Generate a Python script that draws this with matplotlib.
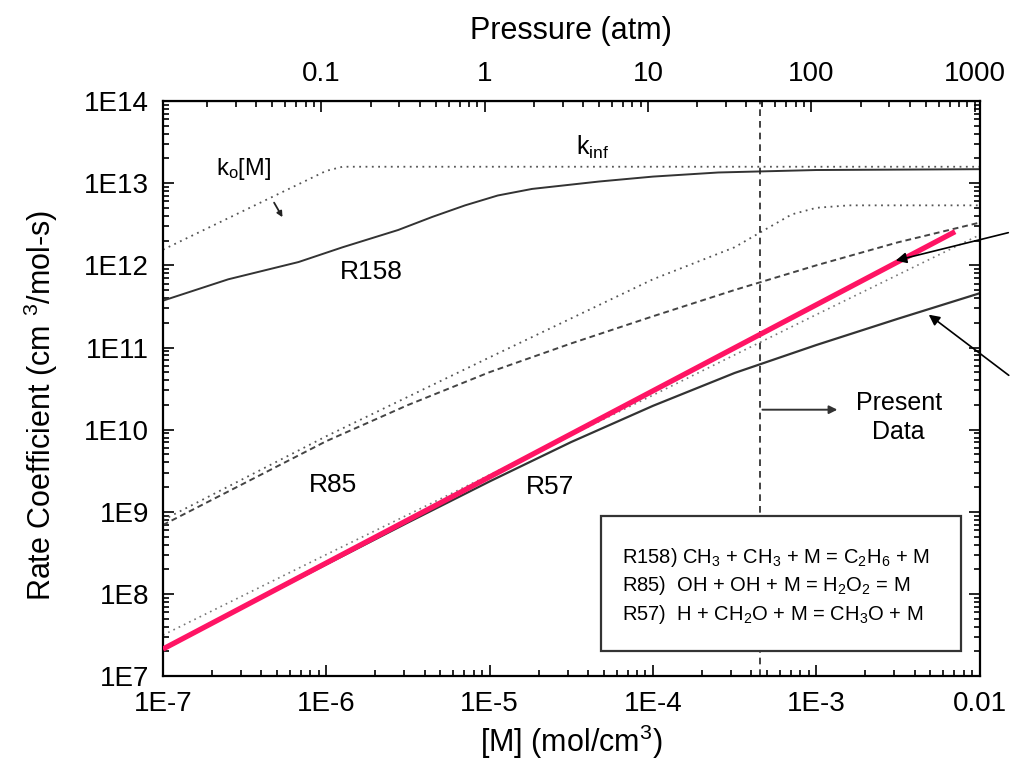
import matplotlib
matplotlib.use('Agg')
import matplotlib.pyplot as plt
import numpy as np
from matplotlib.ticker import FixedLocator, NullFormatter, LogLocator
from matplotlib.patches import Rectangle

plt.rcParams['font.family'] = ['Liberation Sans', 'DejaVu Sans']
plt.rcParams['mathtext.fontset'] = 'custom'
plt.rcParams['mathtext.rm'] = 'Liberation Sans'
plt.rcParams['mathtext.it'] = 'Liberation Sans'
plt.rcParams['font.size'] = 16

# values (log10 of [M] in mol/cm3, log10 of k in cm3/mol-s)
r158_logm = [-7.0, -6.6, -6.17, -5.9, -5.56, -5.35, -5.15, -4.95, -4.74, -4.33, -4.0, -3.6, -3.0, -2.0]
r158_logk = [11.57, 11.83, 12.04, 12.22, 12.43, 12.59, 12.73, 12.85, 12.93, 13.02, 13.08, 13.13, 13.16, 13.17]
r158_lim_logm = [-7.0, -6.0, -5.9, -2.0]
r158_lim_logk = [12.19, 13.15, 13.2, 13.2]

r85_logm = [-7.0, -6.5, -6.0, -5.5, -5.0, -4.5, -4.0, -3.5, -3.0, -2.5, -2.0]
r85_logk = [8.84, 9.35, 9.86, 10.30, 10.70, 11.05, 11.38, 11.70, 12.00, 12.28, 12.52]
r85_lim_logm = [-7.0, -6.0, -5.0, -4.0, -3.5, -3.3, -3.15, -3.0, -2.8, -2.0]
r85_lim_logk = [8.90, 9.92, 10.88, 11.83, 12.22, 12.45, 12.62, 12.70, 12.73, 12.73]

r57_logm = [-7.0, -6.5, -6.0, -5.5, -5.0, -4.5, -4.0, -3.5, -3.0, -2.5, -2.0]
r57_logk = [7.32, 7.85, 8.36, 8.87, 9.37, 9.85, 10.29, 10.69, 11.03, 11.35, 11.66]
r57_lim_logm = [-7.0, -6.0, -5.0, -4.0, -3.0, -2.0]
r57_lim_logk = [7.50, 8.48, 9.45, 10.42, 11.40, 12.37]

pink_logm = [-7.0, -2.15]
pink_logk = [7.33, 12.41]

present_m = 4.5e-4
x_ticks = [1e-7, 1e-6, 1e-5, 1e-4, 1e-3, 1e-2]
x_labels = ['1E-7', '1E-6', '1E-5', '1E-4', '1E-3', '0.01']
y_ticks = [1e7, 1e8, 1e9, 1e10, 1e11, 1e12, 1e13, 1e14]
y_labels = ['1E7', '1E8', '1E9', '1E10', '1E11', '1E12', '1E13', '1E14']
p_ticks = [0.1, 1, 10, 100, 1000]
p_labels = ['0.1', '1', '10', '100', '1000']
atm_per_conc = 1.07e5

legend_lines = [
    r'R158) CH$_3$ + CH$_3$ + M = C$_2$H$_6$ + M',
    r'R85)  OH + OH + M = H$_2$O$_2$ = M',
    r'R57)  H + CH$_2$O + M = CH$_3$O + M',
]

fig = plt.figure(figsize=(10.12, 7.71), dpi=100)
ax = fig.add_axes([0.161, 0.123, 0.807, 0.746])

def tp(lm, lk):
    return 10 ** np.array(lm), 10 ** np.array(lk)

dot = (0, (1, 2.5))
ax.plot(*tp(r158_logm, r158_logk), color='#333333', lw=1.4)
ax.plot(*tp(r158_lim_logm, r158_lim_logk), color='#555555', lw=1.3, ls=dot)
ax.plot(*tp(r85_logm, r85_logk), color='#444444', lw=1.4, ls=(0, (3, 2)))
ax.plot(*tp(r85_lim_logm, r85_lim_logk), color='#555555', lw=1.3, ls=dot)
ax.plot(*tp(r57_logm, r57_logk), color='#333333', lw=1.6)
ax.plot(*tp(r57_lim_logm, r57_lim_logk), color='#777777', lw=1.2, ls=dot)
ax.plot(*tp(pink_logm, pink_logk), color='#ff1464', lw=3.8, solid_capstyle='butt', zorder=5)

ax.axvline(present_m, color='#222222', lw=1.2, ls=(0, (4, 3)), zorder=2)

ax.set_xscale('log')
ax.set_yscale('log')
ax.set_xlim(1e-7, 1e-2)
ax.set_ylim(1e7, 1e14)
ax.xaxis.set_major_locator(FixedLocator(x_ticks))
ax.set_xticklabels(x_labels)
ax.yaxis.set_major_locator(FixedLocator(y_ticks))
ax.set_yticklabels(y_labels)
ax.xaxis.set_minor_locator(LogLocator(base=10, subs=np.arange(2, 10), numticks=20))
ax.yaxis.set_minor_locator(LogLocator(base=10, subs=np.arange(2, 10), numticks=20))
ax.xaxis.set_minor_formatter(NullFormatter())
ax.yaxis.set_minor_formatter(NullFormatter())
ax.tick_params(which='both', direction='in', right=True, labelsize=20, width=1.2)
ax.tick_params(which='major', length=8)
ax.tick_params(which='minor', length=4)
ax.tick_params(axis='x', which='major', pad=11)
ax.tick_params(axis='y', which='major', pad=10)
for s in ax.spines.values():
    s.set_linewidth(1.6)

sec = ax.secondary_xaxis('top', functions=(lambda m: m * atm_per_conc, lambda p: p / atm_per_conc))
sec.xaxis.set_major_locator(FixedLocator(p_ticks))
sec.set_xticklabels(p_labels)
sec.xaxis.set_minor_locator(LogLocator(base=10, subs=np.arange(2, 10), numticks=20))
sec.xaxis.set_minor_formatter(NullFormatter())
sec.tick_params(which='both', direction='in', labelsize=20, width=1.2)
sec.tick_params(which='major', length=8, pad=10)
sec.tick_params(which='minor', length=4)
sec.set_xlabel('Pressure (atm)', fontsize=22, labelpad=16)

ax.set_xlabel('[M] (mol/cm$^3$)', fontsize=22, labelpad=4)
ax.set_ylabel('Rate Coefficient (cm $^{3}$/mol-s)', fontsize=22)
ax.yaxis.set_label_coords(-0.126, 0.47)

# curve labels
ax.text(1.9e-6, 8.3e11, 'R158', fontsize=19, ha='center', va='center')
ax.text(1.1e-6, 2.1e9, 'R85', fontsize=19, ha='center', va='center')
ax.text(2.35e-5, 2.0e9, 'R57', fontsize=19, ha='center', va='center')
ax.text(2.1e-7, 1.5e13, r'k$_o$[M]', fontsize=17, ha='left', va='center')
ax.annotate('', xy=(5.5e-7, 3.6e12), xytext=(4.7e-7, 6.2e12),
            arrowprops=dict(arrowstyle='-|>', color='#222222', lw=1.3, mutation_scale=8))
ax.text(4.3e-5, 2.7e13, r'k$_{inf}$', fontsize=18, ha='center', va='center')

# present data arrow
ax.annotate('', xy=(1.4e-3, 1.75e10), xytext=(present_m, 1.75e10),
            arrowprops=dict(arrowstyle='-|>', color='#333333', lw=1.4, mutation_scale=12))
ax.text(3.2e-3, 1.4e10, 'Present\nData', fontsize=18, ha='center', va='center', linespacing=1.25)

# legend box
ax.add_patch(Rectangle((0.537, 0.043), 0.44, 0.235, transform=ax.transAxes,
                       facecolor='white', edgecolor='#333333', lw=1.6, zorder=6))
for i, line in enumerate(legend_lines):
    ax.text(0.562, 0.207 - i * 0.05, line, transform=ax.transAxes, fontsize=14.5,
            ha='left', va='center', zorder=7)

# arrows from outside the frame
ax.annotate('', xy=(10 ** -2.53, 10 ** 12.05), xycoords='data',
            xytext=(0.999, 1 - 232 / 771), textcoords='figure fraction',
            arrowprops=dict(arrowstyle='-|>', color='black', lw=1.2, mutation_scale=16),
            annotation_clip=False, zorder=8)
ax.annotate('', xy=(10 ** -2.325, 10 ** 11.42), xycoords='data',
            xytext=(0.999, 1 - 377 / 771), textcoords='figure fraction',
            arrowprops=dict(arrowstyle='-|>', color='black', lw=1.2, mutation_scale=16),
            annotation_clip=False, zorder=8)

fig.savefig('out.png', dpi=100)
